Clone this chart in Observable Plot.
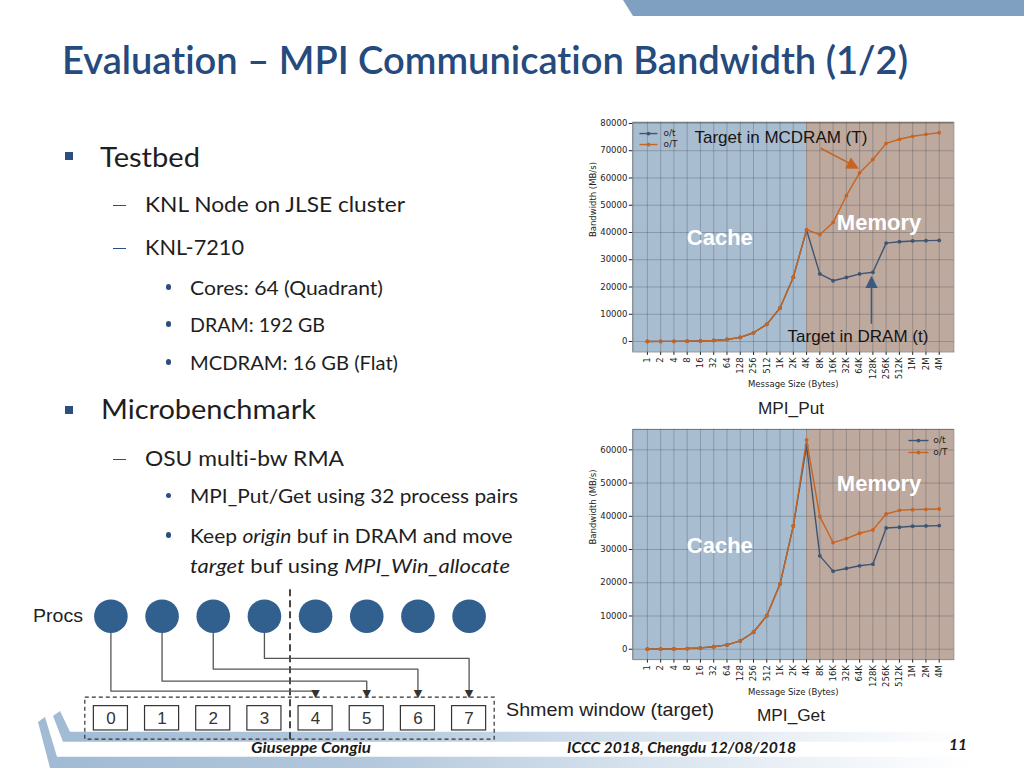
<!DOCTYPE html>
<html>
<head>
<meta charset="utf-8">
<script src="https://cdn.jsdelivr.net/npm/d3@7"></script>
<script src="https://cdn.jsdelivr.net/npm/@observablehq/plot@0.6"></script>
<style>
  html, body { margin: 0; padding: 0; background: #fff; }
  #slide { position: relative; width: 1024px; height: 768px; overflow: hidden; background: #fff; font-variant-ligatures: none; }
  .t { position: absolute; white-space: nowrap; line-height: 1.2; font-variant-ligatures: none; }
  .t .tx { display: inline-block; transform-origin: 0 0; }
  svg.plot, svg { overflow: visible; }
</style>
</head>
<body>
<div id="slide"></div>
<script>
// ---------------- DATA ----------------
const sizes = ["1","2","4","8","16","32","64","128","256","512","1K","2K","4K","8K","16K","32K","64K","128K","256K","512K","1M","2M","4M"];
const seriesNames = ["o/t", "o/T"];
// MPI_Put bandwidth (MB/s)
const put_t = [15, 30, 60, 115, 220, 380, 750, 1500, 3200, 6300, 12300, 23600, 40900, 24800, 22300, 23500, 24800, 25400, 36100, 36600, 36900, 37000, 37100];
const put_T = [15, 30, 60, 115, 220, 380, 750, 1500, 3200, 6300, 12300, 23600, 41000, 39200, 43700, 53500, 61900, 66800, 72700, 74200, 75300, 76000, 76600];
// MPI_Get bandwidth (MB/s)
const get_t = [25, 50, 100, 200, 400, 750, 1300, 2500, 5100, 10100, 19600, 37100, 61300, 28100, 23500, 24300, 25100, 25600, 36500, 36700, 37000, 37100, 37200];
const get_T = [25, 50, 100, 200, 400, 750, 1300, 2500, 5100, 10100, 19600, 37100, 63000, 39900, 32100, 33300, 34900, 35900, 40700, 41800, 42000, 42100, 42200];
const putYTicks = [0, 10000, 20000, 30000, 40000, 50000, 60000, 70000, 80000];
const getYTicks = [0, 10000, 20000, 30000, 40000, 50000, 60000];
const regionSplit = "4K";
const regionLabels = ["Cache", "Memory"];
// annotation labels (data units: x = message-size index, y = MB/s)
const putLabelX = [5.46, 17.46];
const putLabelY = [37950, 43350];
const getLabelX = [5.46, 17.46];
const getLabelY = [31200, 49780];
const putNoteText = ["Target in MCDRAM (T)", "Target in DRAM (t)"];
const putNoteX = [3.55, 10.57];
const putNoteY = [74950, 1840];
const putArrowFrom = [[13.06, 70900], [16.89, 6500]];
const putArrowTo = [[15.5, 64700], [16.89, 21000]];
const putArrowHead = [[15.6, 64300], [16.89, 22200]];
// diagram
const procIds = [0, 1, 2, 3, 4, 5, 6, 7];
const originProcs = [0, 1, 2, 3];
const targetSlots = [4, 5, 6, 7];

// ---------------- STYLE ----------------
const C_T = "#3d5573", C_TT = "#c8641f";
const C_CACHE = "#a9bdd1", C_MEM = "#bea99f";
const BLUE = "#2b4f81";
const slide = document.getElementById("slide");

// ---------------- decorations ----------------
function deco(css) { const d = document.createElement("div"); d.style.cssText = "position:absolute;" + css; slide.appendChild(d); return d; }
deco("left:623px;top:0;width:401px;height:16px;background:#7fa0c0;clip-path:polygon(0 0,100% 0,100% 100%,10px 100%);");
const grad = "linear-gradient(to right,#9fb9d3 0%,#b2c7dc 35%,#d3e0ec 60%,#eef3f8 80%,#ffffff 95%)";
deco(`left:0;top:700px;width:1024px;height:68px;background:${grad};clip-path:polygon(53px 16px,60px 11px,70px 31.7px,1024px 31.7px,1024px 41.7px,63px 41.7px);`);
deco(`left:0;top:700px;width:1024px;height:68px;background:${grad};clip-path:polygon(38px 22px,45px 17px,57px 56.7px,1024px 56.7px,1024px 68px,50px 68px);`);

// ---------------- text helper ----------------
function txt(o) {
  const d = document.createElement("div");
  d.className = "t";
  d.style.fontFamily = o.font || "Lato";
  d.style.fontSize = o.size + "px";
  d.style.fontWeight = o.weight || 400;
  d.style.fontStyle = o.italic ? "italic" : "normal";
  d.style.color = o.color || "#1e1e1e";
  d.style.left = "0px"; d.style.top = "0px";
  d.innerHTML = `<span class="tx">${o.html}</span><span class="bl" style="display:inline-block;width:0;height:0;"></span>`;
  slide.appendChild(d);
  const tx = d.querySelector(".tx");
  const w0 = tx.getBoundingClientRect().width;
  const s = o.width ? o.width / w0 : 1;
  tx.style.transform = `scaleX(${s})`;
  const top = d.getBoundingClientRect().top;
  const base = d.querySelector(".bl").getBoundingClientRect().bottom - top;
  d.style.top = (o.baseline - base) + "px";
  const w = w0 * s;
  const left = o.anchor === "middle" ? o.x - w / 2 : o.anchor === "end" ? o.x - w : o.x;
  d.style.left = left + "px";
  return d;
}
function square(x, y) { deco(`left:${x}px;top:${y}px;width:8px;height:8px;background:${BLUE};`); }
function dash(x, y) { deco(`left:${x}px;top:${y}px;width:13px;height:1.6px;background:${BLUE};`); }
function dot(x, y) { deco(`left:${x - 2.6}px;top:${y - 2.6}px;width:5.2px;height:5.2px;border-radius:50%;background:${BLUE};`); }

// title
txt({html: "Evaluation – MPI Communication Bandwidth (1/2)", font: "Lato", weight: 600, size: 39, x: 62, baseline: 74, width: 846, color: "#254a7d"});

// bullets
square(65, 152); txt({html: "Testbed", size: 26, x: 100, baseline: 166.7, width: 100});
dash(113, 204.5); txt({html: "KNL Node on JLSE cluster", size: 22, x: 145, baseline: 212, width: 260});
dash(113, 247.5); txt({html: "KNL-7210", size: 22, x: 145, baseline: 255.3, width: 99});
dot(168.5, 287); txt({html: "Cores: 64 (Quadrant)", size: 20, x: 190, baseline: 294.7, width: 193});
dot(168.5, 324); txt({html: "DRAM: 192 GB", size: 20, x: 190, baseline: 331.7, width: 135});
dot(168.5, 362); txt({html: "MCDRAM: 16 GB (Flat)", size: 20, x: 190, baseline: 370, width: 208});
square(65, 406); txt({html: "Microbenchmark", size: 26, x: 100.7, baseline: 419.3, width: 215});
dash(113, 458.5); txt({html: "OSU multi-bw RMA", size: 22, x: 145, baseline: 466, width: 199});
dot(168.5, 495.5); txt({html: "MPI_Put/Get using 32 process pairs", size: 20, x: 190, baseline: 503.3, width: 328});
dot(168.5, 535); txt({html: "Keep <i>origin</i> buf in DRAM and move", size: 20, x: 190, baseline: 542.7, width: 322.7});
txt({html: "<i>target</i> buf using <i>MPI_Win_allocate</i>", size: 20, x: 190, baseline: 572.7, width: 320});

// diagram labels / captions
txt({html: "Procs", font: "Liberation Sans", size: 18, x: 83, anchor: "end", baseline: 621.5, width: 50, color: "#222"});
txt({html: "Shmem window (target)", font: "Liberation Sans", size: 19, x: 506, baseline: 716, width: 208, color: "#222"});
txt({html: "MPI_Put", font: "Liberation Sans", size: 16, x: 791, anchor: "middle", baseline: 414, width: 66, color: "#222"});
txt({html: "MPI_Get", font: "Liberation Sans", size: 16, x: 791, anchor: "middle", baseline: 721, width: 68, color: "#222"});

// footer
txt({html: "Giuseppe Congiu", size: 15, weight: 700, italic: true, x: 311, anchor: "middle", baseline: 753, width: 120, color: "#1a1a1a"});
txt({html: "ICCC 2018, Chengdu 12/08/2018", size: 15, weight: 700, italic: true, x: 681.5, anchor: "middle", baseline: 753, width: 229, color: "#1a1a1a"});
txt({html: "11", size: 16, weight: 700, italic: true, x: 949, baseline: 750, width: 18, color: "#1a1a1a"});

// ---------------- charts ----------------
function bwChart({t, T, yTicks, labelX, labelY, notes, arrows, legendPos, left, top, width, height, ml, mr, mt, mb}) {
  const n = sizes.length;
  const idx = d3.range(n);
  const all = t.concat(T);
  const lo = d3.min(all), hi = d3.max(all), pad = (hi - lo) * 0.05;
  const ydom = [lo - pad, hi + pad];
  const xpad = (n - 1) * 0.05;
  const xdom = [-xpad, n - 1 + xpad];
  const split = sizes.indexOf(regionSplit);
  const rows = [];
  [t, T].forEach((arr, s) => arr.forEach((v, i) => rows.push({i, v, s: seriesNames[s]})));
  const colors = {"o/t": C_T, "o/T": C_TT};
  const labels = regionLabels.map((r, k) => ({text: r, x: labelX[k], y: labelY[k]}));
  const marks = [
    Plot.rect([{x1: xdom[0], x2: split}], {x1: "x1", x2: "x2", y1: () => ydom[0], y2: () => ydom[1], fill: C_CACHE}),
    Plot.rect([{x1: split, x2: xdom[1]}], {x1: "x1", x2: "x2", y1: () => ydom[0], y2: () => ydom[1], fill: C_MEM}),
    Plot.ruleX(idx, {x: d => d, stroke: "#3a4650", strokeOpacity: 0.3, strokeWidth: 1}),
    Plot.ruleY(yTicks, {y: d => d, stroke: "#3a4650", strokeOpacity: 0.3, strokeWidth: 1}),
    Plot.frame({stroke: "#555", strokeOpacity: 0.7}),
    Plot.text(labels, {x: "x", y: "y", text: "text", fill: "white", fontSize: 22, fontWeight: "bold", fontFamily: "Liberation Sans"}),
  ];
  for (const s of seriesNames) {
    const data = rows.filter(r => r.s === s);
    marks.push(Plot.line(data, {x: "i", y: "v", stroke: colors[s], strokeWidth: 1.4}));
    marks.push(Plot.dot(data, {x: "i", y: "v", fill: colors[s], r: 1.9}));
  }
  if (notes) {
    marks.push(Plot.text(notes, {x: "x", y: "y", text: "text", textAnchor: "start", fontSize: 17, fill: "#151515", fontFamily: "Liberation Sans"}));
  }
  if (arrows) {
    marks.push(Plot.link(arrows, {x1: "x1", y1: "y1", x2: "x2", y2: "y2", stroke: "color", strokeWidth: 1.5}));
    marks.push(Plot.text(arrows, {x: "hx", y: "hy", text: () => "▲", fill: "color", rotate: "rot", fontSize: 16, fontFamily: "DejaVu Sans", lineAnchor: "middle"}));
  }
  // legend
  const L = legendPos;
  const leg = seriesNames.map((s, k) => ({s, x1: L.x1, x2: L.x2, xt: L.xt, y: L.y[k], c: colors[s]}));
  marks.push(Plot.link(leg, {x1: "x1", x2: "x2", y1: "y", y2: "y", stroke: "c", strokeWidth: 1.4}));
  marks.push(Plot.dot(leg, {x: d => (d.x1 + d.x2) / 2, y: "y", fill: "c", r: 1.9}));
  marks.push(Plot.text(leg, {x: "xt", y: "y", text: "s", textAnchor: "start", fontSize: 9, fill: "#222"}));
  // axis labels
  marks.push(Plot.text(["Bandwidth (MB/s)"], {text: d => d, frameAnchor: "left", dx: -40, rotate: -90, fontSize: 8.5, fill: "#222"}));
  marks.push(Plot.text(["Message Size (Bytes)"], {text: d => d, frameAnchor: "bottom", dy: 35, fontSize: 8.5, fill: "#222"}));
  const svg = Plot.plot({
    width, height, marginLeft: ml, marginRight: mr, marginTop: mt, marginBottom: mb,
    style: {fontFamily: "DejaVu Sans", fontSize: "8.5px", color: "#222", background: "transparent", overflow: "visible"},
    x: {type: "linear", domain: xdom, ticks: idx, tickFormat: i => sizes[i], tickRotate: -90, tickSize: 3.5, tickPadding: 2, label: null},
    y: {type: "linear", domain: ydom, ticks: yTicks, tickFormat: d => d.toFixed(0), tickSize: 3.5, tickPadding: 2, label: null},
    color: {type: "identity"},
    marks
  });
  svg.style.position = "absolute";
  svg.style.left = left + "px";
  svg.style.top = top + "px";
  slide.appendChild(svg);
}

const putNotes = putNoteText.map((s, k) => ({text: s, x: putNoteX[k], y: putNoteY[k]}));
const putArrows = [
  {x1: putArrowFrom[0][0], y1: putArrowFrom[0][1], x2: putArrowTo[0][0], y2: putArrowTo[0][1], hx: putArrowHead[0][0], hy: putArrowHead[0][1], color: C_TT, rot: 118},
  {x1: putArrowFrom[1][0], y1: putArrowFrom[1][1], x2: putArrowTo[1][0], y2: putArrowTo[1][1], hx: putArrowHead[1][0], hy: putArrowHead[1][1], color: "#3b5a80", rot: 0}
];

bwChart({t: put_t, T: put_T, yTicks: putYTicks, labelX: putLabelX, labelY: putLabelY,
  notes: putNotes, arrows: putArrows,
  legendPos: {x1: -0.6, x2: 0.76, xt: 1.22, y: [76300, 72270]},
  left: 560, top: 110, width: 400, height: 285, ml: 72.3, mr: 6.7, mt: 11.8, mb: 43.6});

bwChart({t: get_t, T: get_T, yTicks: getYTicks, labelX: getLabelX, labelY: getLabelY,
  notes: null, arrows: null,
  legendPos: {x1: 19.68, x2: 21.19, xt: 21.56, y: [62800, 59200]},
  left: 560, top: 420, width: 400, height: 285, ml: 72.3, mr: 6.7, mt: 8.9, mb: 45.9});

// ---------------- diagram ----------------
(function () {
  const routeLevel = [73.4, 63.6, 51.8, 41.3];
  const tipY = 79.6;
  const paths = [];
  originProcs.forEach((o, k) => {
    const tg = targetSlots[k], lv = routeLevel[k];
    paths.push({k, x: o, y: 0}, {k, x: o, y: lv}, {k, x: tg, y: lv}, {k, x: tg, y: tipY - 4});
  });
  const svg = Plot.plot({
    width: 520, height: 170, marginLeft: 0, marginRight: 0, marginTop: 0, marginBottom: 0,
    style: {background: "transparent", overflow: "visible", fontFamily: "Liberation Sans"},
    x: {type: "linear", domain: [0, 7], range: [110.4, 468.6], axis: null},
    y: {type: "linear", domain: [0, 100], range: [30.7, 132.9], axis: null},
    marks: [
      Plot.rect([{a: -0.5, b: 7.5}], {x1: "a", x2: "b", y1: () => 79.6, y2: () => 120.7, fill: "none", stroke: "#333", strokeWidth: 1.2, strokeDasharray: "4,3"}),
      Plot.ruleX([3.5], {x: d => d, y1: () => -26, y2: () => 124, stroke: "#333", strokeWidth: 1.8, strokeDasharray: "7,4"}),
      Plot.line(paths, {x: "x", y: "y", z: "k", stroke: "#555", strokeWidth: 1.3}),
      Plot.text(targetSlots, {x: d => d, y: () => tipY - 4, text: () => "▼", fontSize: 11, fontFamily: "DejaVu Sans", fill: "#333", lineAnchor: "middle"}),
      Plot.dot(procIds, {x: d => d, y: () => 0, r: 16.8, fill: "#31608f"}),
      Plot.rect(procIds, {x1: d => d - 0.333, x2: d => d + 0.333, y1: () => 88, y2: () => 111.8, fill: "white", stroke: "#333", strokeWidth: 1.2}),
      Plot.text(procIds, {x: d => d, y: () => 100, text: d => String(d), fontSize: 17, fill: "#333"})
    ]
  });
  svg.style.position = "absolute";
  svg.style.left = "0px";
  svg.style.top = "585px";
  slide.appendChild(svg);
})();
</script>
</body>
</html>
